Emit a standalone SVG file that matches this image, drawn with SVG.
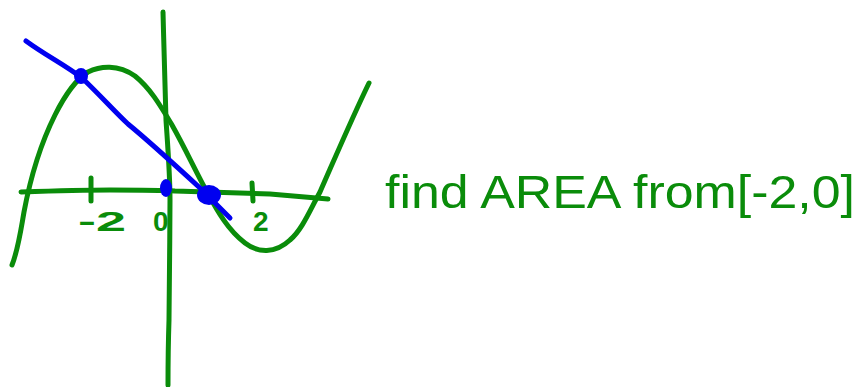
<svg xmlns="http://www.w3.org/2000/svg" width="859" height="387" viewBox="0 0 859 387">
<style>
.g{fill:none;stroke:#0a8c0a;stroke-width:5;stroke-linecap:round;stroke-linejoin:round}
.b{fill:none;stroke:#0000f0;stroke-width:5;stroke-linecap:round;stroke-linejoin:round}
.d{fill:#0000f0}
.t{fill:#0a8c0a;font-family:"Liberation Sans",Arial,sans-serif;font-size:46px}
.l{fill:#0a8c0a;font-family:"Liberation Sans",Arial,sans-serif;font-size:28px;font-weight:bold}
</style>
<rect width="859" height="387" fill="#ffffff"/>
<g id="axes">
<path class="g" d="M163,12 C164,50 165,90 166,120 C168,150 170,175 170,200 C170,240 169,290 169,320 C168,350 168,370 168,385"/>
<path class="g" d="M21,192 C50,191 80,190 110,190 C140,190 160,190 175,191 C210,192 240,193 270,194 C295,196 315,198 328,199"/>
<path class="g" d="M91,178 L91,201"/>
<path class="g" d="M252,183 L253,201"/>
</g>
<g id="curve">
<path class="g" d="M12,265 C18,250 20,235 24,212 C30,180 40,145 55,115 C65,95 75,80 88,72 C100,66 118,64 135,76 C150,88 160,105 172,125 C185,148 195,170 207,192 C218,212 228,230 245,243 C258,253 275,254 290,240 C302,230 310,210 320,192 C335,158 352,118 369,83"/>
</g>
<g id="line">
<path class="b" d="M26,41 C45,55 65,65 82,78 C100,95 115,112 128,124 C150,142 175,165 200,188 C212,200 222,210 230,218"/>
</g>
<g id="points">
<ellipse class="d" cx="81" cy="76" rx="7" ry="8"/>
<ellipse class="d" cx="166" cy="188" rx="6" ry="9"/>
<ellipse class="d" cx="209" cy="195" rx="12" ry="10"/>
</g>
<g id="labels">
<text class="l" x="78" y="231" textLength="48" lengthAdjust="spacingAndGlyphs">-2</text>
<text class="l" x="153" y="231">0</text>
<text class="l" x="253" y="231">2</text>
</g>
<g id="note">
<text class="t" x="385" y="208" textLength="470" lengthAdjust="spacingAndGlyphs">find AREA from[-2,0]</text>
</g>
</svg>
